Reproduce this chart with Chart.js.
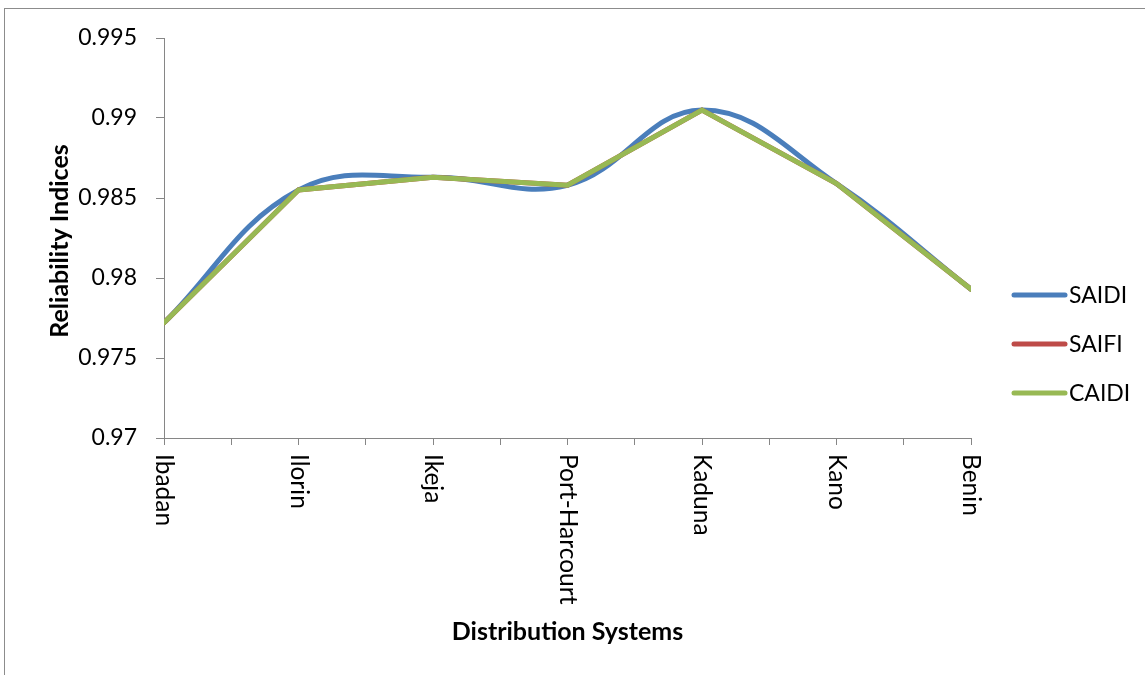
<!DOCTYPE html>
<html>
<head>
<meta charset="utf-8">
<script src="https://cdn.jsdelivr.net/npm/chart.js@4.4.1/dist/chart.umd.min.js"></script>
<style>
  html, body { margin: 0; padding: 0; background: #ffffff; }
  #wrap { width: 1145px; height: 675px; position: relative; }
</style>
</head>
<body>
<div id="wrap"><canvas id="chart" width="1145" height="675"></canvas></div>
<script>
// Distribution systems and their reliability indices
const categories = ['Ibadan', 'Ilorin', 'Ikeja', 'Port-Harcourt', 'Kaduna', 'Kano', 'Benin'];
const saidi = [0.9772, 0.9855, 0.9863, 0.9858, 0.9905, 0.9859, 0.9793];
const saifi = [0.9772, 0.9855, 0.9863, 0.9858, 0.9905, 0.9859, 0.9793];
const caidi = [0.9772, 0.9855, 0.9863, 0.9858, 0.9905, 0.9859, 0.9793];
const yTicks = [0.97, 0.975, 0.98, 0.985, 0.99, 0.995];

const FONT = 'Lato';
const AXIS_GREY = '#868686';

const toPoints = arr => arr.map((v, i) => ({ x: i, y: v }));

// Frame around the whole chart
const framePlugin = {
  id: 'frame',
  beforeDraw(chart) {
    const ctx = chart.ctx;
    ctx.save();
    ctx.fillStyle = '#ffffff';
    ctx.fillRect(0, 0, chart.width, chart.height);
    ctx.strokeStyle = '#8c8c8c';
    ctx.lineWidth = 1;
    ctx.strokeRect(4.5, 8.5, chart.width + 20, chart.height + 20);
    ctx.restore();
  }
};

// Category labels (rotated clockwise), axis titles and legend
const decorPlugin = {
  id: 'decor',
  afterDraw(chart) {
    const ctx = chart.ctx;
    const xs = chart.scales.x;
    const area = chart.chartArea;
    ctx.save();

    // category labels, reading top to bottom
    ctx.fillStyle = '#000000';
    ctx.font = '24.5px ' + FONT;
    ctx.textAlign = 'left';
    ctx.textBaseline = 'middle';
    categories.forEach((c, i) => {
      const px = xs.getPixelForValue(i);
      ctx.save();
      ctx.translate(px, area.bottom + 16);
      ctx.rotate(Math.PI / 2);
      ctx.fillText(c, 0, 0);
      ctx.restore();
    });

    // axis titles
    ctx.font = 'bold 25px ' + FONT;
    ctx.textAlign = 'center';
    ctx.fillText('Distribution Systems', (area.left + area.right) / 2, 632);
    ctx.save();
    ctx.translate(60, 241);
    ctx.rotate(-Math.PI / 2);
    ctx.fillText('Reliability Indices', 0, 0);
    ctx.restore();

    // legend
    const legendY = [295, 344, 393];
    ctx.font = '23px ' + FONT;
    ctx.textAlign = 'left';
    chart.data.datasets.forEach((ds, i) => {
      const y = legendY[i];
      ctx.strokeStyle = ds.borderColor;
      ctx.lineWidth = 5;
      ctx.lineCap = 'round';
      ctx.beginPath();
      ctx.moveTo(1014, y);
      ctx.lineTo(1065, y);
      ctx.stroke();
      ctx.fillStyle = '#000000';
      ctx.fillText(ds.label, 1069, y + 1);
    });
    ctx.restore();
  }
};

new Chart(document.getElementById('chart'), {
  type: 'line',
  data: {
    datasets: [
      { label: 'SAIDI', data: toPoints(saidi), borderColor: '#4a7ebb', borderWidth: 5, tension: 0.4, order: 3 },
      { label: 'SAIFI', data: toPoints(saifi), borderColor: '#be4b48', borderWidth: 5, tension: 0, order: 2 },
      { label: 'CAIDI', data: toPoints(caidi), borderColor: '#98b954', borderWidth: 5, tension: 0, order: 1 }
    ]
  },
  options: {
    responsive: false,
    animation: false,
    devicePixelRatio: 1,
    layout: { padding: { top: 38, left: 0, right: 174, bottom: 0 } },
    elements: { point: { radius: 0, hoverRadius: 0 }, line: { borderCapStyle: 'round', borderJoinStyle: 'miter' } },
    plugins: { legend: { display: false }, tooltip: { enabled: false } },
    scales: {
      x: {
        type: 'linear',
        min: 0,
        max: categories.length - 1,
        afterFit(s) { s.height = 237; },
        ticks: { display: false, stepSize: 0.5 },
        grid: { drawOnChartArea: false, drawTicks: true, tickLength: 7, color: AXIS_GREY, lineWidth: 1 },
        border: { color: AXIS_GREY, width: 1 }
      },
      y: {
        min: yTicks[0],
        max: yTicks[yTicks.length - 1],
        afterFit(s) { s.width = 164; },
        afterBuildTicks(s) { s.ticks = yTicks.map(v => ({ value: v })); },
        ticks: {
          padding: 19,
          color: '#000000',
          font: { family: FONT, size: 23 },
          callback: v => String(+Number(v).toFixed(3))
        },
        grid: { drawOnChartArea: false, drawTicks: true, tickLength: 8, color: AXIS_GREY, lineWidth: 1 },
        border: { color: AXIS_GREY, width: 1 }
      }
    }
  },
  plugins: [framePlugin, decorPlugin]
});
</script>
</body>
</html>
